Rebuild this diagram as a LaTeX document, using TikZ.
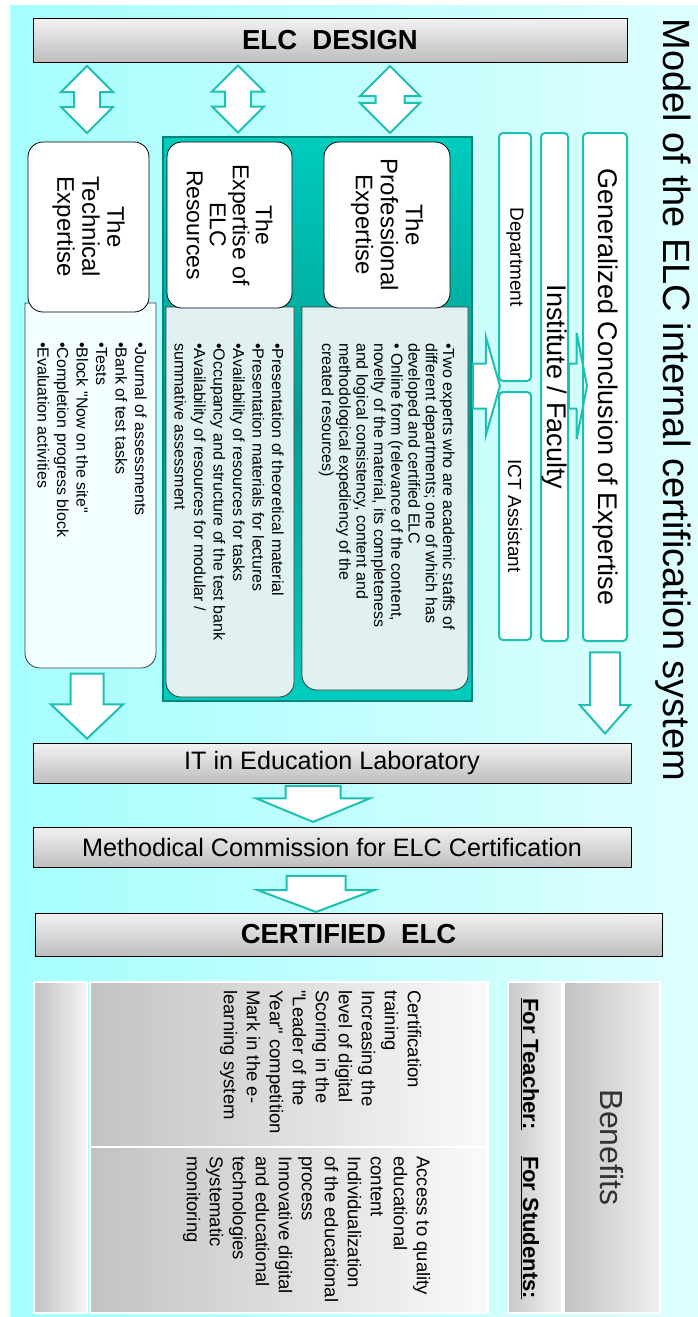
\documentclass[tikz,border=0pt]{standalone}
\usepackage{fontspec}
\setmainfont{Liberation Sans}[Ligatures=TeXOff]
\usetikzlibrary{shapes,arrows,positioning,calc}

\definecolor{arrowteal}{RGB}{30,192,178}
\definecolor{bgleft}{RGB}{166,254,254}
\definecolor{bgright}{RGB}{222,254,254}
\definecolor{frameline}{RGB}{0,134,122}
\definecolor{frametop}{RGB}{0,204,190}
\definecolor{framemid}{RGB}{0,158,146}
\definecolor{boxline}{RGB}{60,60,60}
\definecolor{techfill}{RGB}{243,254,254}
\definecolor{resfill}{RGB}{225,241,241}
\definecolor{barlight}{RGB}{242,242,242}
\definecolor{bardark}{RGB}{190,190,190}
\definecolor{paneldark}{RGB}{194,194,194}
\definecolor{panellight}{RGB}{250,250,250}

\begin{document}
\begin{tikzpicture}[x=1pt,y=-1pt,
  bar/.style={draw=black, line width=1, top color=barlight, bottom color=bardark, inner sep=0},
  header/.style={draw=black, line width=0.8, fill=white, rounded corners=15, rotate=-90, align=center, inner sep=0, font=\fontsize{24}{25}\selectfont},
  unitbox/.style={draw=arrowteal, line width=2, fill=white, rounded corners=4, rotate=-90, inner sep=0},
  body/.style={draw=boxline, line width=0.8},
  bodytext/.style={rotate=-90, anchor=north west, align=left, inner sep=0, font=\fontsize{16}{19.5}\selectfont},
  blockarrow/.style={single arrow, draw=arrowteal, line width=2, fill=white, inner sep=0, anchor=tip},
  twoway/.style={double arrow, draw=arrowteal, line width=2, fill=white, inner sep=0, rotate=90, minimum height=67},
  panel/.style={draw=white, line width=1.2, inner sep=0},
  vtext/.style={rotate=-90, inner sep=0}]
\useasboundingbox (0,0) rectangle (698,1317);
\fill[left color=bgleft, right color=bgright] (10,5) rectangle (698,1317);

\node[bar, minimum width=594, minimum height=44, font=\fontsize{27.5}{30}\selectfont\bfseries] (design) at (330,40) {ELC\ \ DESIGN};
\node[vtext, font=\fontsize{38}{40}\selectfont] (title) at (673,400) {Model of the ELC internal certification system};

\node[twoway, inner ysep=12, double arrow head extend=13] (techlink) at (87,99.5) {};
\node[twoway, inner ysep=12, double arrow head extend=13] (reslink) at (238,99) {};
\node[twoway, inner ysep=13.5, double arrow head extend=15.5] (proflink) at (390,99.5) {};

\node[draw=frameline, line width=2.5, top color=frametop, bottom color=frametop, middle color=framemid, minimum width=309, minimum height=564, inner sep=0] (frame) at (317.5,419) {};

\draw[body, fill=techfill] (25,303) [rounded corners=15] -- (25,668) -- (156,668) [sharp corners] -- (156,303) -- cycle;
\draw[body, fill=resfill] (166,307) [rounded corners=15] -- (166,697) -- (294,697) [sharp corners] -- (294,307) -- cycle;
\draw[body, fill=resfill] (302,307) [rounded corners=15] -- (302,690) -- (468,690) [sharp corners] -- (468,307) -- cycle;

\node[header, minimum width=170, minimum height=121] (tech) at (88.5,227) {The\\Technical\\Expertise};
\node[header, minimum width=166, minimum height=125, font=\fontsize{23}{23}\selectfont] (elcres) at (229.5,225) {The\\Expertise of\\ELC\\Resources};
\node[header, minimum width=166, minimum height=126] (prof) at (387,225) {The\\Professional\\Expertise};

\node[bodytext] (techlist) at (147,342) {•Journal of assessments\\•Bank of test tasks\\•Tests\\•Block "Now on the site"\\•Completion progress block\\•Evaluation activities};
\node[bodytext] (reslist) at (284,343) {•Presentation of theoretical material\\•Presentation materials for lectures\\•Availability of resources for tasks\\•Occupancy and structure of the test bank\\•Availability of resources for modular /\\summative assessment};
\node[bodytext, font=\fontsize{16}{17.3}\selectfont] (proflist) at (455,343) {•Two experts who are academic staffs of\\different departments; one of which has\\developed and certified ELC\\• Online form (relevance of the content,\\novelty of the material, its completeness\\and logical consistency, content and\\methodological expediency of the\\created resources)};

\node[blockarrow, minimum height=27, inner ysep=21.5, single arrow head extend=27, single arrow tip angle=148] (profout) at (501,386) {};

\node[unitbox, minimum width=248, minimum height=32, font=\fontsize{19}{20}\selectfont] (dept) at (515,257) {Department};
\node[unitbox, minimum width=248, minimum height=32, font=\fontsize{19}{20}\selectfont] (ict) at (515,516) {ICT Assistant};
\node[unitbox, minimum width=508, minimum height=27, font=\fontsize{27}{28}\selectfont] (inst) at (554.5,387) {Institute / Faculty};
\node[unitbox, minimum width=508, minimum height=44, font=\fontsize{27}{28}\selectfont] (general) at (605,387) {Generalized Conclusion of Expertise};

\node[blockarrow, fill=none, minimum height=18, inner ysep=21.5, single arrow head extend=30.5, single arrow tip angle=158] (instout) at (588,386) {};

\node[bar, minimum width=598, minimum height=40, font=\fontsize{25.2}{28}\selectfont] (itlab) at (332,763) {IT in Education Laboratory};
\node[bar, minimum width=598, minimum height=40, font=\fontsize{25.2}{28}\selectfont] (commission) at (332,847) {Methodical Commission for ELC Certification};
\node[bar, minimum width=627, minimum height=43, font=\fontsize{27.5}{30}\selectfont\bfseries] (certified) at (348.5,934.5) {CERTIFIED\ \ ELC};

\node[blockarrow, rotate=-90, minimum height=65, inner ysep=15.5, single arrow head extend=19.5, single arrow tip angle=93] (techout) at (87,740) {};
\node[blockarrow, rotate=-90, minimum height=81, inner ysep=14, single arrow head extend=10, single arrow tip angle=83] (generalout) at (605,735) {};
\node[blockarrow, rotate=-90, minimum height=36, inner ysep=26.5, single arrow head extend=29.5, single arrow tip angle=135] (labout) at (313,823) {};
\node[blockarrow, rotate=-90, minimum height=36, inner ysep=28.5, single arrow head extend=29, single arrow tip angle=139] (commout) at (316,913) {};

\node[panel, left color=paneldark, right color=panellight!90!paneldark, minimum width=53, minimum height=331] (sidebar) at (60.5,1147.5) {};
\node[panel, left color=paneldark, right color=panellight, minimum width=398, minimum height=165] (teacherpanel) at (289,1064.5) {};
\node[panel, left color=paneldark, right color=panellight, minimum width=398, minimum height=166] (studentpanel) at (289,1230) {};
\node[panel, left color=paneldark!90!white, right color=panellight!85!paneldark, minimum width=54, minimum height=331] (forpanel) at (535,1147.5) {};
\node[panel, left color=paneldark, right color=panellight!80!paneldark, minimum width=96, minimum height=331] (benefitpanel) at (612,1147.5) {};

\node[vtext, font=\fontsize{32}{34}\selectfont, text=black!80] (benefits) at (benefitpanel) {Benefits};
\node[vtext, font=\fontsize{22}{24}\selectfont\bfseries] (forteacher) at (530,1064) {\underline{For Teacher:}};
\node[vtext, font=\fontsize{22}{24}\selectfont\bfseries] (forstudents) at (530,1227.5) {\underline{For Students:}};
\node[bodytext, font=\fontsize{18.5}{23}\selectfont] (teacherlist) at (421.5,990) {Certification\\training\\Increasing the\\level of digital\\Scoring in the\\"Leader of the\\Year" competition\\Mark in the e-\\learning system};
\node[bodytext, font=\fontsize{18.5}{23}\selectfont] (studentlist) at (430.5,1156) {Access to quality\\educational\\content\\Individualization\\of the educational\\process\\Innovative digital\\and educational\\technologies\\Systematic\\monitoring};
\end{tikzpicture}
\end{document}
